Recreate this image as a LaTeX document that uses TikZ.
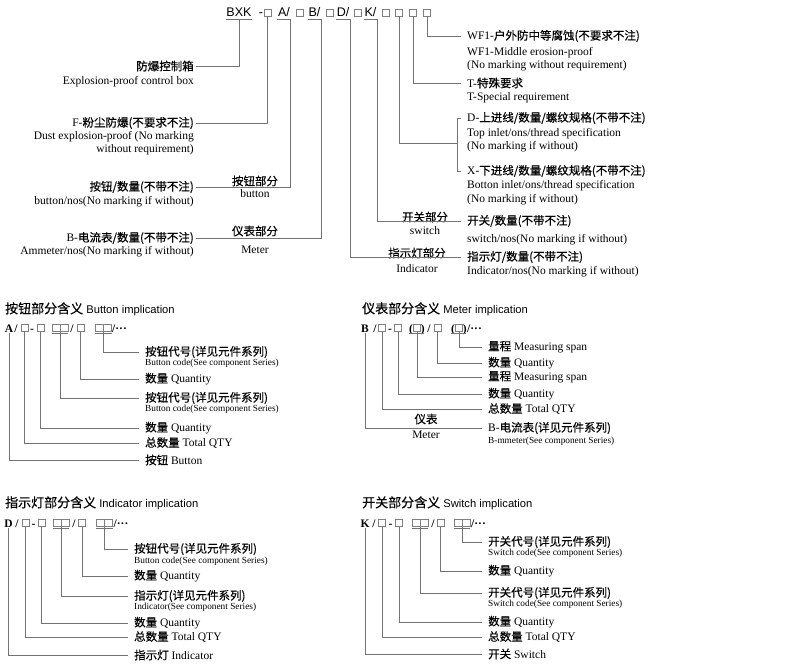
\documentclass[tikz,border=0pt]{standalone}
\usepackage{fontspec}
\setmainfont{Liberation Serif}
\setsansfont{Liberation Sans}
\newfontfamily\cjk{Noto Sans CJK SC}[FakeBold=0.4]
\newcommand{\zh}[1]{{\cjk #1}}
\definecolor{lnc}{gray}{0.45}
\definecolor{bxc}{gray}{0.5}

\begin{document}
\begin{tikzpicture}[x=1pt,y=-1pt,
  ln/.style={draw=lnc,line width=0.8pt},
  sq/.style={draw=bxc,line width=0.6pt,minimum size=7pt,inner sep=0pt},
  pr/.style={sq,minimum width=16pt,
             path picture={\draw[bxc,line width=0.6pt] (path picture bounding box.north)--(path picture bounding box.south);}},
  tc/.style={font=\sffamily\fontsize{12.5}{14}\selectfont,inner xsep=0.5pt,inner ysep=2pt,
             text height=9pt,text depth=0pt},
  ul/.style={font=\fontsize{11.5}{13.5}\selectfont,inner sep=2pt},
  ll/.style={ul,anchor=east},
  rl/.style={ul,anchor=west,inner xsep=6pt},
  mid/.style={ul},
  cd/.style={anchor=base,font=\bfseries\fontsize{11.5}{13}\selectfont,inner sep=0.5pt},
  lb/.style={anchor=west,inner xsep=6pt,inner ysep=1pt,font=\fontsize{11.5}{13}\selectfont},
  sub/.style={lb,font=\fontsize{9.3}{10}\selectfont},
  mcap/.style={font=\fontsize{11.5}{13}\selectfont,inner sep=1pt},
  ttl/.style={anchor=west,inner sep=2pt,font=\sffamily\fontsize{11.2}{14}\selectfont}]

  \useasboundingbox[fill=white] (0,0) rectangle (790,669);

  % type code
  \node[tc] (bxk)   at (239,12.3)   {BXK};
  \node[tc] (tdash) at (261,12.3)   {-};
  \node[sq] (tf)    at (267.5,12.5) {};
  \node[tc] (ta)    at (284,12.3)   {A/};
  \node[sq] (ta2)   at (300,12.5)   {};
  \node[tc] (tb)    at (314.5,12.3) {B/};
  \node[sq] (tb2)   at (330,12.5)   {};
  \node[tc] (td)    at (343,12.3)   {D/};
  \node[sq] (td2)   at (357.5,12.5) {};
  \node[tc] (tk)    at (370.5,12.3) {K/};
  \node[sq] (tk2)   at (385.5,12.5) {};
  \node[sq] (tq1)   at (399,12.5)   {};
  \node[sq] (tq2)   at (413,12.5)   {};
  \node[sq] (tq3)   at (427,12.5)   {};
  \draw[ln] (bxk.south west)--(bxk.south east); \draw[ln] (ta.south west)--(ta.south east);
  \draw[ln] (tb.south west)--(tb.south east); \draw[ln] (td.south west)--(td.south east);
  \draw[ln] (tk.south west)--(tk.south east);

  % left side
  \node[ll] (ctl)   at (196,66)  {\zh{防爆控制箱}};
  \node[ll] (ctle)  at (196,82)  {Explosion-proof control box};
  \node[ll] (dust)  at (196,123) {F-\zh{粉尘防爆(不要求不注)}};
  \node[ll,align=right] (duste) at (196,143) {Dust explosion-proof (No marking\\without requirement)};
  \node[ll] (btn)   at (196,187) {\zh{按钮/数量(不带不注)}};
  \node[ll] (btne)  at (196,202) {button/nos(No marking if without)};
  \node[ll] (amm)   at (196,238) {B-\zh{电流表/数量(不带不注)}};
  \node[ll] (amme)  at (196,251.5) {Ammeter/nos(No marking if without)};

  \node[mid] (btnm)  at (255,181) {\zh{按钮部分}};
  \node[mid] (btnme) at (255,194) {button};
  \node[mid] (mtrm)  at (255,231) {\zh{仪表部分}};
  \node[mid] (mtrme) at (255,250) {Meter};
  \node[mid] (swm)   at (425,217) {\zh{开关部分}};
  \node[mid] (swme)  at (425,231) {switch};
  \node[mid] (inm)   at (417,253) {\zh{指示灯部分}};
  \node[mid] (inme)  at (417,269) {Indicator};

  % right side
  \node[rl] (wf)   at (461,36)  {WF1-\zh{户外防中等腐蚀(不要求不注)}};
  \node[rl,align=left] (wfe) at (461,59) {WF1-Middle erosion-proof\\(No marking without requirement)};
  \node[rl] (tsp)  at (461,83)  {T-\zh{特殊要求}};
  \node[rl] (tspe) at (461,98)  {T-Special requirement};
  \node[rl] (dup)  at (461,118) {D-\zh{上进线/数量/螺纹规格(不带不注)}};
  \node[rl,align=left] (dupe) at (461,140) {Top inlet/ons/thread specification\\(No marking if without)};
  \node[rl] (xdn)  at (461,171) {X-\zh{下进线/数量/螺纹规格(不带不注)}};
  \node[rl,align=left] (xdne) at (461,192.5) {Botton inlet/ons/thread specification\\(No marking if without)};
  \node[rl] (swt)  at (461,221) {\zh{开关/数量(不带不注)}};
  \node[rl] (swte) at (461,240) {switch/nos(No marking if without)};
  \node[rl] (ind)  at (461,257) {\zh{指示灯/数量(不带不注)}};
  \node[rl] (inde) at (461,272) {Indicator/nos(No marking if without)};
  \coordinate (jn) at (457,143);

  \draw[ln] (bxk.south) |- (ctl.east);
  \draw[ln] (tf.south) |- (dust.east);
  \draw[ln] (ta.south east) |- (btn.east);
  \draw[ln] (tb.south east) |- (amm.east);
  \draw[ln] (td.south east) |- (ind.west);
  \draw[ln] (tk.south east) |- (swt.west);
  \draw[ln] (tq1.south) |- (jn);
  \draw[ln] (dup.west) -- ++(-4,0) |- (xdn.west);
  \draw[ln] (tq2.south) |- (tsp.west);
  \draw[ln] (tq3.south) |- (wf.west);

  % button part
  \node[ttl] (bti) at (3,309) {{\cjk\fontsize{13}{15}\selectfont 按钮部分含义} Button implication};
  \node[cd] (ba)  at (9,332)    {A};
  \node[cd] (bs1) at (16,332)   {/};
  \node[sq] (bq1) at (24.5,328) {};
  \node[cd] (bh)  at (32,332)   {-};
  \node[sq] (bq2) at (40.5,328) {};
  \node[pr] (bp1) at (60,328)   {};
  \node[cd] (bs2) at (72,332)   {/};
  \node[sq] (bq3) at (80.5,328) {};
  \node[pr] (bp2) at (103.5,328) {};
  \node[cd,anchor=base west] (bs3) at (111.5,332) {/···};
  \draw[ln] ([yshift=-1.5pt]bp1.south west)--([yshift=-1.5pt]bp1.south east);
  \draw[ln] ([yshift=-1.5pt]bp2.south west)--([yshift=-1.5pt]bp2.south east);

  \node[lb]  (bl1)  at (139,352)   {\zh{按钮代号(详见元件系列)}};
  \node[sub] (bl1e) at (139,363.5) {Button code(See component Series)};
  \node[lb]  (bl2)  at (139,379)   {\zh{数量} Quantity};
  \node[lb]  (bl3)  at (139,398)   {\zh{按钮代号(详见元件系列)}};
  \node[sub] (bl3e) at (139,409.5) {Button code(See component Series)};
  \node[lb]  (bl4)  at (139,428)   {\zh{数量} Quantity};
  \node[lb]  (bl5)  at (139,443)   {\zh{总数量} Total QTY};
  \node[lb]  (bl6)  at (139,460)   {\zh{按钮} Button};
  \draw[ln] (bp2.south) |- (bl1.west);
  \draw[ln] (bq3.south) |- (bl2.west);
  \draw[ln] (bp1.south) |- (bl3.west);
  \draw[ln] (bq2.south) |- (bl4.west);
  \draw[ln] (bq1.south) |- (bl5.west);
  \draw[ln] (ba.south) |- (bl6.west);

  % meter part
  \node[ttl] (mti) at (360,309) {{\cjk\fontsize{13}{15}\selectfont 仪表部分含义} Meter implication};
  \node[cd] (mb)  at (365,332)   {B};
  \node[cd] (ms1) at (375,332)   {/};
  \node[sq] (mq1) at (382,328)   {};
  \node[cd] (mh)  at (390,332)   {-};
  \node[sq] (mq2) at (398,328)   {};
  \node[cd] (mr1) at (417,332)   {(\hspace{8pt})};
  \node[sq] (mp1) at (417,328)   {};
  \node[cd] (ms2) at (429,332)   {/};
  \node[sq] (mq3) at (437.5,328) {};
  \node[cd] (mr2) at (459,332)   {(\hspace{8pt})};
  \node[sq] (mp2) at (459,328)   {};
  \node[cd,anchor=base west] (ms3) at (466.5,332) {/···};
  \draw[ln] ([yshift=-1.5pt]mp1.south west) ++(-4,0) -- ++(15,0);
  \draw[ln] ([yshift=-1.5pt]mp2.south west) ++(-4,0) -- ++(15,0);

  \node[lb]  (ml1)  at (482,347) {\zh{量程} Measuring span};
  \node[lb]  (ml2)  at (482,363) {\zh{数量} Quantity};
  \node[lb]  (ml3)  at (482,377) {\zh{量程} Measuring span};
  \node[lb]  (ml4)  at (482,394) {\zh{数量} Quantity};
  \node[lb]  (ml5)  at (482,409) {\zh{总数量} Total QTY};
  \node[lb]  (ml6)  at (482,428) {B-\zh{电流表(详见元件系列)}};
  \node[sub] (ml6e) at (482,441) {B-mmeter(See component Series)};
  \node[mcap] (mtm) at (426,419) {\zh{仪表}};
  \node[mcap] (mte) at (426,435) {Meter};
  \draw[ln] (mp2.south) |- (ml1.west);
  \draw[ln] (mq3.south) |- (ml2.west);
  \draw[ln] (mp1.south) |- (ml3.west);
  \draw[ln] (mq2.south) |- (ml4.west);
  \draw[ln] (mq1.south) |- (ml5.west);
  \draw[ln] (mb.south) |- (ml6.west);

  % indicator part
  \node[ttl] (iti) at (3,503) {{\cjk\fontsize{13}{15}\selectfont 指示灯部分含义} Indicator implication};
  \node[cd] (idd) at (8.5,527)  {D};
  \node[cd] (is1) at (17,527)   {/};
  \node[sq] (iq1) at (25.5,523) {};
  \node[cd] (ih)  at (33.5,527) {-};
  \node[sq] (iq2) at (41.5,523) {};
  \node[pr] (ip1) at (61,523)   {};
  \node[cd] (is2) at (74,527)   {/};
  \node[sq] (iq3) at (82,523)   {};
  \node[pr] (ip2) at (104.5,523) {};
  \node[cd,anchor=base west] (is3) at (113,527) {/···};
  \draw[ln] ([yshift=-1.5pt]ip1.south west)--([yshift=-1.5pt]ip1.south east);
  \draw[ln] ([yshift=-1.5pt]ip2.south west)--([yshift=-1.5pt]ip2.south east);

  \node[lb]  (il1)  at (128,549)   {\zh{按钮代号(详见元件系列)}};
  \node[sub] (il1e) at (128,561)   {Button code(See component Series)};
  \node[lb]  (il2)  at (128,576)   {\zh{数量} Quantity};
  \node[lb]  (il3)  at (128,596)   {\zh{指示灯(详见元件系列)}};
  \node[sub] (il3e) at (128,607.5) {Indicator(See component Series)};
  \node[lb]  (il4)  at (128,623)   {\zh{数量} Quantity};
  \node[lb]  (il5)  at (128,637)   {\zh{总数量} Total QTY};
  \node[lb]  (il6)  at (128,655)   {\zh{指示灯} Indicator};
  \draw[ln] (ip2.south) |- (il1.west);
  \draw[ln] (iq3.south) |- (il2.west);
  \draw[ln] (ip1.south) |- (il3.west);
  \draw[ln] (iq2.south) |- (il4.west);
  \draw[ln] (iq1.south) |- (il5.west);
  \draw[ln] (idd.south) |- (il6.west);

  % switch part
  \node[ttl] (sti) at (360,503) {{\cjk\fontsize{13}{15}\selectfont 开关部分含义} Switch implication};
  \node[cd] (kk)  at (365,527)   {K};
  \node[cd] (ks1) at (374,527)   {/};
  \node[sq] (kq1) at (382,523)   {};
  \node[cd] (kh)  at (390.5,527) {-};
  \node[sq] (kq2) at (399,523)   {};
  \node[pr] (kp1) at (420,523)   {};
  \node[cd] (ks2) at (433,527)   {/};
  \node[sq] (kq3) at (440.5,523) {};
  \node[pr] (kp2) at (462,523)   {};
  \node[cd,anchor=base west] (ks3) at (470.5,527) {/···};
  \draw[ln] ([yshift=-1.5pt]kp1.south west)--([yshift=-1.5pt]kp1.south east);
  \draw[ln] ([yshift=-1.5pt]kp2.south west)--([yshift=-1.5pt]kp2.south east);

  \node[lb]  (kl1)  at (482,542)   {\zh{开关代号(详见元件系列)}};
  \node[sub] (kl1e) at (482,553.5) {Switch code(See component Series)};
  \node[lb]  (kl2)  at (482,571)   {\zh{数量} Quantity};
  \node[lb]  (kl3)  at (482,593)   {\zh{开关代号(详见元件系列)}};
  \node[sub] (kl3e) at (482,604.5) {Switch code(See component Series)};
  \node[lb]  (kl4)  at (482,622)   {\zh{数量} Quantity};
  \node[lb]  (kl5)  at (482,637)   {\zh{总数量} Total QTY};
  \node[lb]  (kl6)  at (482,654)   {\zh{开关} Switch};
  \draw[ln] (kp2.south) |- (kl1.west);
  \draw[ln] (kq3.south) |- (kl2.west);
  \draw[ln] (kp1.south) |- (kl3.west);
  \draw[ln] (kq2.south) |- (kl4.west);
  \draw[ln] (kq1.south) |- (kl5.west);
  \draw[ln] (kk.south) |- (kl6.west);
\end{tikzpicture}
\end{document}
